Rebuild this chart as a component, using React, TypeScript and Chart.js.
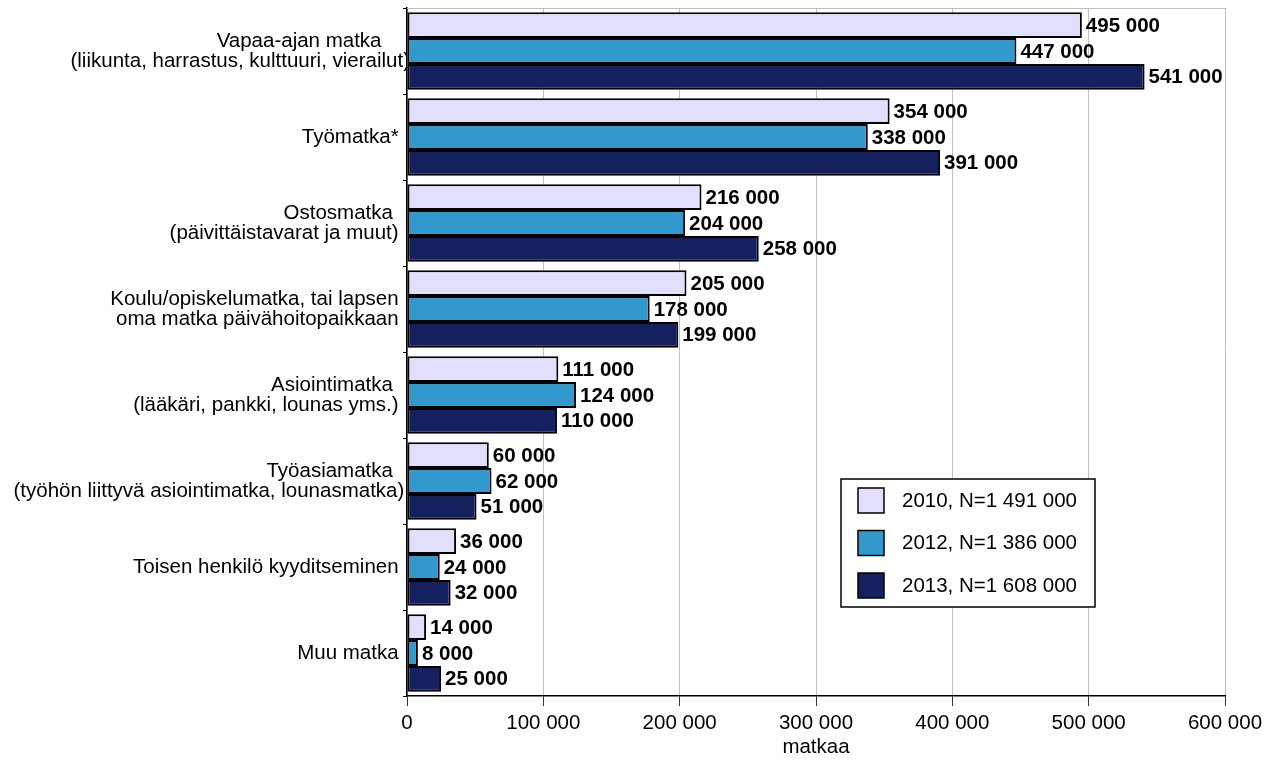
import React, { useEffect, useRef } from "react";
import { Chart, registerables } from "chart.js";

Chart.register(...registerables);

const categories: string[][] = [
  ["Vapaa-ajan matka     ", "(liikunta, harrastus, kulttuuri, vierailut)"],
  ["Työmatka*  "],
  ["Ostosmatka   ", "(päivittäistavarat ja muut)  "],
  ["Koulu/opiskelumatka, tai lapsen  ", "oma matka päivähoitopaikkaan  "],
  ["Asiointimatka   ", "(lääkäri, pankki, lounas yms.)  "],
  ["Työasiamatka   ", "(työhön liittyvä asiointimatka, lounasmatka) "],
  ["Toisen henkilö kyyditseminen  "],
  ["Muu matka  "],
];

const values2010 = [495000, 354000, 216000, 205000, 111000, 60000, 36000, 14000];
const values2012 = [447000, 338000, 204000, 178000, 124000, 62000, 24000, 8000];
const values2013 = [541000, 391000, 258000, 199000, 110000, 51000, 32000, 25000];

const seriesLabels = ["2010, N=1 491 000", "2012, N=1 386 000", "2013, N=1 608 000"];
const seriesColors = ["#E0DFFE", "#3399CC", "#15205F"];

const axisMin = 0;
const axisMax = 600000;
const axisStep = 100000;
const axisTitle = "matkaa";

const FONT = "'Liberation Sans', Arial, sans-serif";

const fmt = (n: number) => String(n).replace(/\B(?=(\d{3})+(?!\d))/g, " ");

const topBorderPlugin = {
  id: "topBorder",
  beforeDatasetsDraw(chart: any) {
    const { ctx, chartArea } = chart;
    ctx.save();
    ctx.strokeStyle = "#BFBFBF";
    ctx.lineWidth = 1;
    ctx.beginPath();
    ctx.moveTo(chartArea.left, chartArea.top + 0.5);
    ctx.lineTo(chartArea.right, chartArea.top + 0.5);
    ctx.stroke();
    ctx.restore();
  },
};

const dataLabelPlugin = {
  id: "dataLabels",
  afterDatasetsDraw(chart: any) {
    const { ctx } = chart;
    ctx.save();
    ctx.font = `bold 20.5px ${FONT}`;
    ctx.fillStyle = "#000";
    ctx.textAlign = "left";
    ctx.textBaseline = "middle";
    chart.data.datasets.forEach((ds: any, di: number) => {
      const meta = chart.getDatasetMeta(di);
      meta.data.forEach((bar: any, i: number) => {
        ctx.fillText(fmt(ds.data[i]), bar.x + 4, bar.y + 1);
      });
    });
    ctx.restore();
  },
};

const legendPlugin = {
  id: "boxLegend",
  afterDraw(chart: any) {
    const { ctx } = chart;
    const left = 841;
    const top = 479;
    const w = 254;
    const h = 128;
    ctx.save();
    ctx.fillStyle = "#fff";
    ctx.fillRect(left, top, w, h);
    ctx.strokeStyle = "#000";
    ctx.lineWidth = 1.5;
    ctx.strokeRect(left, top, w, h);
    ctx.font = `20.5px ${FONT}`;
    ctx.textAlign = "left";
    ctx.textBaseline = "middle";
    chart.data.datasets.forEach((ds: any, i: number) => {
      const sy = top + 9 + i * 42.5;
      ctx.fillStyle = ds.backgroundColor;
      ctx.fillRect(left + 17, sy, 26, 25);
      ctx.strokeStyle = "#000";
      ctx.lineWidth = 1.5;
      ctx.strokeRect(left + 17, sy, 26, 25);
      ctx.fillStyle = "#000";
      ctx.fillText(ds.label, left + 61, sy + 13);
    });
    ctx.restore();
  },
};

export default function App() {
  const ref = useRef<HTMLCanvasElement | null>(null);

  useEffect(() => {
    if (!ref.current) return;
    Chart.defaults.font.family = FONT;
    Chart.defaults.color = "#000";
    const datasets = [values2010, values2012, values2013].map((vals, i) => ({
      label: seriesLabels[i],
      data: vals,
      backgroundColor: seriesColors[i],
      borderColor: "#000",
      borderWidth: 2,
      borderSkipped: false as const,
      categoryPercentage: 0.9,
      barPercentage: 1.0,
    }));
    const chart = new Chart(ref.current, {
      type: "bar",
      data: { labels: categories, datasets },
      options: {
        indexAxis: "y",
        animation: false,
        responsive: false,
        layout: { padding: { top: 8, right: 49, bottom: 0, left: 0 } },
        plugins: {
          legend: { display: false },
          tooltip: { enabled: false },
        },
        scales: {
          x: {
            min: axisMin,
            max: axisMax,
            ticks: {
              stepSize: axisStep,
              font: { size: 20.5 },
              color: "#000",
              padding: 5,
              maxRotation: 0,
              callback: (v: any) => fmt(Number(v)),
            },
            grid: {
              color: "#BFBFBF",
              lineWidth: 1,
              tickColor: "#333",
              tickLength: 10,
            },
            border: { color: "#000", width: 1.5 },
            title: {
              display: true,
              text: axisTitle,
              font: { size: 20.5 },
              color: "#000",
              padding: { top: 0, bottom: 0 },
            },
            afterFit: (scale: any) => {
              scale.height = 64;
            },
          },
          y: {
            ticks: {
              font: { size: 20.5, lineHeight: 0.98 },
              color: "#000",
              padding: -7,
              crossAlign: "near",
            },
            grid: {
              drawOnChartArea: false,
              color: "#000",
              tickLength: 4,
              offset: true,
            },
            border: { color: "#000", width: 1.5 },
            afterFit: (scale: any) => {
              scale.width = 407;
            },
          },
        },
      },
      plugins: [topBorderPlugin, dataLabelPlugin, legendPlugin],
    } as any);
    return () => chart.destroy();
  }, []);

  return (
    <canvas
      ref={ref}
      width={1274}
      height={760}
      style={{ position: "absolute", left: 0, top: 0, display: "block" }}
    />
  );
}
